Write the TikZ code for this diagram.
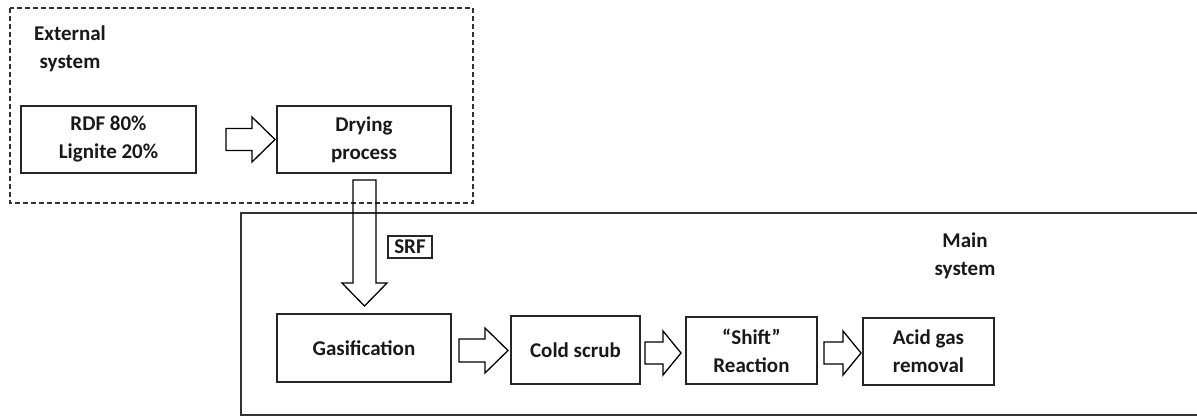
\documentclass[tikz,border=0pt]{standalone}
\usepackage{fontspec}
\setmainfont{Carlito}
\begin{document}
\begin{tikzpicture}[x=1pt,y=-1pt,
  every node/.style={font=\bfseries\fontsize{21}{28}\selectfont, text=black!90},
  procbox/.style={draw=black!85, line width=1.3pt, align=center, inner sep=0pt},
  lbl/.style={align=center, inner sep=0pt},
  barrow/.style={draw=black, line width=1.3pt, line join=miter},
  frame/.style={draw=black!80, line width=1.2pt}]
\useasboundingbox (0,0) rectangle (1197,417);
% system frames
\draw[frame, dash pattern=on 5pt off 3pt] (10,8) rectangle (473,203);
\draw[frame] (241,213) rectangle (1202,415);
\node[lbl] (ext) at (70,49) {External\\system};
\node[lbl] (mainlbl) at (965,256) {Main\\system};
% process boxes
\node[procbox, minimum width=175pt, minimum height=67pt] (rdf) at (108.5,139.5) {RDF 80\%\\Lignite 20\%};
\node[procbox, minimum width=174pt, minimum height=67pt] (dry) at (364,139.5) {Drying\\process};
\node[procbox, minimum width=174pt, minimum height=68pt] (gas) at (364,348) {Gasification};
\node[procbox, minimum width=129pt, minimum height=68pt] (cold) at (575.5,350) {Cold scrub};
\node[procbox, minimum width=131pt, minimum height=67pt] (shift) at (751.5,350.5) {``Shift''\\Reaction};
\node[procbox, minimum width=131pt, minimum height=67pt] (acid) at (928.5,351.5) {Acid gas\\removal};
\node[draw=black!85, line width=1.1pt, inner sep=2.5pt, minimum width=44pt, minimum height=22pt] (srf) at (410,247) {SRF};
% block arrows
\draw[barrow] (226,128.5) -- (252,128.5) -- (252,117) -- (275,139.5) -- (252,162) -- (252,150.5) -- (226,150.5) -- cycle;
\draw[barrow] (353,180) -- (376,180) -- (376,283) -- (387,283) -- (364.5,306) -- (342,283) -- (353,283) -- cycle;
\draw[barrow] (459,339) -- (485,339) -- (485,328) -- (508,350.5) -- (485,373) -- (485,362) -- (459,362) -- cycle;
\draw[barrow] (645,342) -- (663,342) -- (663,331) -- (681,353) -- (663,375) -- (663,364) -- (645,364) -- cycle;
\draw[barrow] (824,342) -- (843,342) -- (843,331) -- (861,353) -- (843,375) -- (843,364) -- (824,364) -- cycle;
\end{tikzpicture}
\end{document}
